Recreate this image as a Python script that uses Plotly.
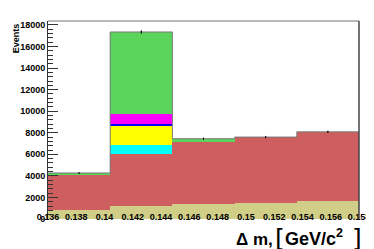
import numpy as np
import plotly.graph_objects as go

# Bin edges (Delta m, GeV/c^2)
edges = [0.136, 0.1404, 0.1448, 0.1492, 0.1536, 0.158]
# Stacked components, bottom to top
tan_vals     = [800, 1230, 1410, 1500, 1630]
red_vals     = [3290, 4770, 5740, 6100, 6460]
cyan_vals    = [0, 830, 0, 0, 0]
yellow_vals  = [0, 1820, 0, 0, 0]
blue_vals    = [0, 150, 0, 0, 0]
magenta_vals = [0, 950, 0, 0, 0]
green_vals   = [180, 7600, 300, 0, 0]

x_ticks = [0.136, 0.138, 0.14, 0.142, 0.144, 0.146, 0.148, 0.15, 0.152, 0.154, 0.156, 0.158]
x_tick_text = ["0.136", "0.138", "0.14", "0.142", "0.144", "0.146", "0.148", "0.15", "0.152", "0.154", "0.156", "0.158"]
y_ticks = [0, 2000, 4000, 6000, 8000, 10000, 12000, 14000, 16000, 18000]
y_tick_text = ["0", "2000", "4000", "6000", "8000", "10000", "12000", "14000", "16000", "18000"]

centers = [(a + b) / 2 for a, b in zip(edges[:-1], edges[1:])]
width = edges[1] - edges[0]

components = [
    (tan_vals, "rgb(209,206,135)"),
    (red_vals, "rgb(206,94,95)"),
    (cyan_vals, "rgb(0,255,255)"),
    (yellow_vals, "rgb(255,255,0)"),
    (blue_vals, "rgb(0,0,255)"),
    (magenta_vals, "rgb(255,0,255)"),
    (green_vals, "rgb(90,212,90)"),
]

fig = go.Figure()
for vals, col in components:
    fig.add_trace(go.Bar(x=centers, y=vals, width=width, marker=dict(color=col, line=dict(width=0)),
                         showlegend=False, hoverinfo="skip"))

total = np.sum([c[0] for c in components], axis=0)

# Outline of the total (step)
fig.add_trace(go.Scatter(x=edges + [edges[-1]], y=list(total) + [total[-1], 0], mode="lines",
                         line=dict(shape="hv", color="rgb(120,120,120)", width=1),
                         showlegend=False, hoverinfo="skip"))
# Error ticks
fig.add_trace(go.Scatter(x=centers, y=total, mode="markers", marker=dict(size=1, color="black"),
                         error_y=dict(type="data", array=np.sqrt(total) * 1.2, width=0, thickness=1, color="black"),
                         showlegend=False, hoverinfo="skip"))

font_fam = "Liberation Sans, Arial, sans-serif"
fig.update_layout(
    width=374, height=249,
    margin=dict(l=38, r=12, t=12, b=38),
    paper_bgcolor="white", plot_bgcolor="white",
    barmode="stack", bargap=0,
    xaxis=dict(range=[edges[0], edges[-1]], tickvals=x_ticks, ticktext=x_tick_text,
               ticks="", showgrid=False, zeroline=False, showline=False, ticklabelstandoff=-9,
               tickfont=dict(family=font_fam, size=9, color="black", weight="bold")),
    yaxis=dict(range=[0, 18370], tickvals=y_ticks, ticktext=y_tick_text, ticks="inside", ticklen=10,
               tickcolor="#333", tickwidth=1, showgrid=False, zeroline=False, showline=True,
               linecolor="#333", linewidth=1,
               minor=dict(ticks="inside", ticklen=5, dtick=400, tickcolor="#333", tickwidth=1, showgrid=False),
               tickfont=dict(family=font_fam, size=9, color="black", weight="bold")),
)
# frame top and right
fig.add_shape(type="line", xref="paper", yref="paper", x0=0, x1=1, y0=1, y1=1,
              line=dict(color="rgb(160,160,160)", width=1.5))
fig.add_shape(type="line", xref="paper", yref="paper", x0=1, x1=1, y0=0, y1=1,
              line=dict(color="rgb(70,70,70)", width=1.5))


def px_x(p):
    return (p - 38) / 324


def px_y(p):
    return (211 - p) / 199


fig.add_annotation(text="<b>Events</b>", textangle=-90, xref="paper", yref="paper",
                   x=px_x(5), y=1, xanchor="center", yanchor="top", showarrow=False,
                   font=dict(family=font_fam, size=9, color="black"))
# x-axis title pieces
fig.add_annotation(text="<b>Δ m,</b>", xref="paper", yref="paper", x=px_x(274), y=px_y(232),
                   xanchor="right", yanchor="middle", showarrow=False,
                   font=dict(family=font_fam, size=17, color="black"))
fig.add_annotation(text="[", xref="paper", yref="paper", x=px_x(280), y=px_y(231),
                   xanchor="center", yanchor="middle", showarrow=False,
                   font=dict(family="DejaVu Sans", size=25, color="black"))
fig.add_annotation(text="<b>GeV/c<sup>2</sup></b>", xref="paper", yref="paper", x=px_x(283), y=px_y(230),
                   xanchor="left", yanchor="middle", showarrow=False,
                   font=dict(family=font_fam, size=18, color="black"))
fig.add_annotation(text="]", xref="paper", yref="paper", x=px_x(360), y=px_y(231),
                   xanchor="center", yanchor="middle", showarrow=False,
                   font=dict(family="DejaVu Sans", size=25, color="black"))

fig.write_html("out.html")
